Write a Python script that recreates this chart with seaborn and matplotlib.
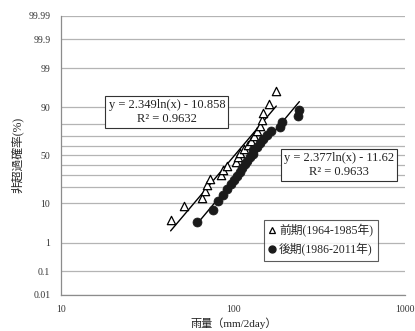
#!/usr/bin/env python3
# -*- coding: utf-8 -*-
"""雨量の非超過確率プロット（正規確率紙・対数軸）"""

from statistics import NormalDist

import numpy as np
import matplotlib
matplotlib.use('Agg')
import matplotlib.pyplot as plt
from matplotlib.lines import Line2D
from matplotlib.ticker import FixedLocator, NullFormatter
import seaborn as sns

# ============================================================
# データ
# ============================================================

# 前期 (1964-1985年) 雨量 mm/2day と 非超過確率 %
early_rain = [43.2, 51.4, 65.9, 68.7, 70.5, 73.4, 85.1, 87.4, 92.3, 104.1, 106.2,
              109.9, 115.9, 122.3, 127.4, 132.6, 138.0, 143.7, 146.6, 149.6, 162.2, 178.1]
early_prob = [4.35, 8.70, 13.0, 17.4, 21.7, 26.1, 30.4, 34.8, 39.1, 43.5, 47.8,
              52.2, 56.5, 60.9, 65.2, 69.6, 73.9, 78.3, 82.6, 87.0, 91.3, 95.7]

# 後期 (1986-2011年)
late_rain = [61.7, 76.1, 81.4, 87.4, 92.3, 97.3, 101.3, 105.1, 109.9, 112.9, 117.5, 120.7,
             125.7, 130.3, 130.8, 137.5, 143.7, 149.6, 157.2, 166.6, 187.9, 193.1, 239.3, 242.6]
late_prob = [3.7, 7.4, 11.1, 14.8, 18.5, 22.2, 25.9, 29.6, 33.3, 37.0, 40.7, 44.4,
             48.1, 51.9, 55.6, 59.3, 63.0, 66.7, 70.4, 74.1, 77.8, 81.5, 85.2, 88.9]

# 近似式 z = a ln(x) + b
fit_slope = [2.349, 2.377]
fit_intercept = [-10.858, -11.62]
fit_r2 = [0.9632, 0.9633]

series_labels = ['前期(1964-1985年)', '後期(1986-2011年)']

y_major = [0.01, 0.1, 1, 10, 50, 90, 99, 99.9, 99.99]
y_minor = [20, 30, 40, 60, 70, 80]
x_ticks = [10, 100, 1000]

# ============================================================
# 描画
# ============================================================

nd = NormalDist()
_ppf = np.vectorize(nd.inv_cdf, otypes=[float])
_cdf = np.vectorize(nd.cdf, otypes=[float])


def prob_forward(p):
    p = np.clip(np.asarray(p, dtype=float) / 100.0, 1e-9, 1 - 1e-9)
    return _ppf(p)


def prob_inverse(z):
    return _cdf(np.asarray(z, dtype=float)) * 100.0


sns.set_style('white')
plt.rcParams['font.family'] = ['Liberation Serif', 'Noto Sans CJK JP', 'DejaVu Sans']

fig = plt.figure(figsize=(4.15, 3.31), dpi=100)
ax = fig.add_axes([0.148, 0.109, 0.828, 0.843])

ax.set_xscale('log')
ax.set_yscale('function', functions=(prob_forward, prob_inverse))

# 回帰直線
for xs, a, b in [(early_rain, fit_slope[0], fit_intercept[0]),
                 (late_rain, fit_slope[1], fit_intercept[1])]:
    xl = np.geomspace(min(xs), max(xs), 50)
    yl = prob_inverse(a * np.log(xl) + b)
    sns.lineplot(x=xl, y=yl, ax=ax, color='black', linewidth=1.0, sort=False)

# データ点
sns.scatterplot(x=early_rain, y=early_prob, ax=ax, marker='^', s=36,
                facecolor='white', edgecolor='black', linewidth=0.9, zorder=3)
sns.scatterplot(x=late_rain, y=late_prob, ax=ax, marker='o', s=42,
                color='#1a1a1a', edgecolor='#1a1a1a', linewidth=0.5, zorder=3)

ax.set_xlim(10, 1000)
ax.set_ylim(0.01, 99.99)

ax.xaxis.set_major_locator(FixedLocator(x_ticks))
ax.set_xticklabels([str(v) for v in x_ticks])
ax.xaxis.set_minor_formatter(NullFormatter())
ax.xaxis.set_minor_locator(FixedLocator([]))

ax.yaxis.set_major_locator(FixedLocator(y_major))
ax.set_yticklabels([f'{v:g}' for v in y_major])
ax.yaxis.set_minor_locator(FixedLocator(y_minor))
ax.yaxis.set_minor_formatter(NullFormatter())

ax.grid(False)
ax.yaxis.grid(True, which='both', color='#b4b4b4', linewidth=0.9)
ax.set_axisbelow(True)

for side in ['top', 'right']:
    ax.spines[side].set_visible(False)
for side in ['left', 'bottom']:
    ax.spines[side].set_color('#8c8c8c')
    ax.spines[side].set_linewidth(0.9)

ax.tick_params(axis='x', direction='in', length=3.5, width=0.8, color='#8c8c8c',
               pad=7, labelsize=7, labelcolor='#333333')
ax.tick_params(axis='y', which='both', length=0, pad=8, labelsize=7, labelcolor='#333333')

ax.set_xlabel('雨量（mm/2day）', fontsize=8, labelpad=3, color='#222222')
ax.set_ylabel('非超過確率(%)', fontsize=8.5, labelpad=3, color='#222222')

# 近似式ボックス
box = dict(boxstyle='square,pad=0.25', facecolor='white', edgecolor='#333333', linewidth=0.8)
for (tx, ty), a, b, r2 in [((0.307, 0.656), fit_slope[0], fit_intercept[0], fit_r2[0]),
                           ((0.808, 0.466), fit_slope[1], fit_intercept[1], fit_r2[1])]:
    ax.text(tx, ty, f'y = {a:g}ln(x) - {abs(b):g}\nR² = {r2:.4f}',
            transform=ax.transAxes, ha='center', va='center', ma='center',
            fontsize=9, linespacing=1.2, bbox=box, color='#222222', zorder=4)

# 凡例
handles = [
    Line2D([], [], linestyle='none', marker='^', markersize=4.5,
           markerfacecolor='white', markeredgecolor='black', markeredgewidth=0.9),
    Line2D([], [], linestyle='none', marker='o', markersize=5,
           markerfacecolor='#1a1a1a', markeredgecolor='#1a1a1a'),
]
leg = ax.legend(handles, series_labels, loc='upper left', bbox_to_anchor=(0.589, 0.269),
                fontsize=8.5, frameon=True, fancybox=False, handlelength=0.6,
                handletextpad=0.3, borderpad=0.4, labelspacing=0.45, borderaxespad=0)
leg.get_frame().set_edgecolor('#333333')
leg.get_frame().set_linewidth(0.8)

fig.savefig('out.png', dpi=100)
plt.close(fig)
